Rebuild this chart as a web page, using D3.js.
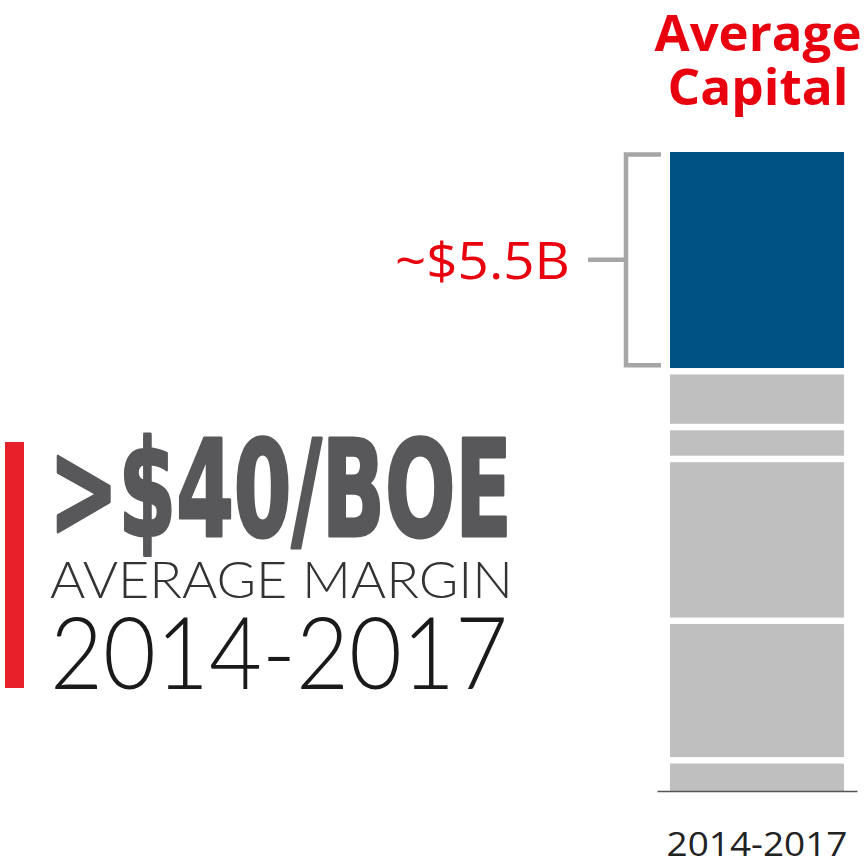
<!DOCTYPE html>
<html>
<head>
<meta charset="utf-8">
<script src="https://cdn.jsdelivr.net/npm/d3@7"></script>
<style>
  html, body { margin: 0; padding: 0; background: #fff; }
  svg { display: block; }
</style>
</head>
<body>
<div id="chart"></div>
<script>
// data
const periods = ["2014-2017"];
const segments = ["s5", "s4", "s3", "s2", "s1", "capital"]; // bottom -> top
const segmentValues = [0.77, 3.5, 4.06, 0.8, 1.4, 5.5];
const capitalLabel = "~$5.5B";
const titleLines = ["Average", "Capital"];
const marginLines = [">$40/BOE", "AVERAGE MARGIN", "2014-2017"];

const red = "#e8000f";
const blue = "#005184";
const grey = "#bfbfbf";
const bracketGrey = "#a6a6a6";

const width = 867;
const height = 864;

const svg = d3
  .select("#chart")
  .append("svg")
  .attr("width", width)
  .attr("height", height)
  .attr("viewBox", [0, 0, width, height]);

// stacked positions
let acc = 0;
const stacked = segmentValues.map((v, i) => {
  const d = { key: segments[i], y0: acc, y1: acc + v };
  acc += v;
  return d;
});
const total = acc;

const x = d3.scaleBand().domain(periods).range([657, 857]).padding(0.0695);
const y = d3.scaleLinear().domain([0, total]).range([791, 152]);

const gap = 6.5;

svg
  .append("g")
  .selectAll("rect")
  .data(stacked)
  .join("rect")
  .attr("x", x(periods[0]))
  .attr("width", x.bandwidth())
  .attr("y", (d) => y(d.y1) + (d.y1 < total ? gap / 2 : 0))
  .attr("height", (d) => {
    let h = y(d.y0) - y(d.y1);
    if (d.y1 < total) h -= gap / 2;
    if (d.y0 > 0) h -= gap / 2;
    return h;
  })
  .attr("fill", (d) => (d.key === "capital" ? blue : grey));

// x axis
const xAxis = (g) =>
  g
    .attr("transform", `translate(0, ${y(0)})`)
    .call(d3.axisBottom(x).tickSize(0).tickSizeOuter(0).tickPadding(42))
    .call((g) => g.select(".domain").attr("stroke", "#555").attr("stroke-width", 1.6))
    .call((g) =>
      g
        .selectAll("text")
        .attr("font-family", "'Open Sans', sans-serif")
        .attr("font-size", 33)
        .attr("fill", "#222")
        .attr("textLength", 181)
        .attr("lengthAdjust", "spacingAndGlyphs")
    );
svg.append("g").call(xAxis);

// bracket around capital segment
const cap = stacked[stacked.length - 1];
const bTop = y(cap.y1) + 2.5;
const bBot = y(cap.y0) - 6;
const bx = 626;
const bMid = (bTop + bBot) / 2;
svg
  .append("path")
  .attr("d", `M661,${bTop} H${bx} V${bBot} H661 M${bx},${bMid} H588`)
  .attr("fill", "none")
  .attr("stroke", bracketGrey)
  .attr("stroke-width", 4.5);

svg
  .append("text")
  .attr("x", 570)
  .attr("y", bMid + 19)
  .attr("text-anchor", "end")
  .attr("font-family", "'Open Sans', sans-serif")
  .attr("font-size", 51)
  .attr("fill", red)
  .attr("textLength", 175)
  .attr("lengthAdjust", "spacingAndGlyphs")
  .text(capitalLabel);

// title
svg
  .selectAll("text.title")
  .data(titleLines)
  .join("text")
  .attr("class", "title")
  .attr("x", 758)
  .attr("y", (d, i) => 51 + i * 54)
  .attr("text-anchor", "middle")
  .attr("font-family", "'Open Sans', sans-serif")
  .attr("font-weight", "bold")
  .attr("font-size", 50)
  .attr("fill", red)
  .attr("textLength", (d, i) => [207, 181][i])
  .attr("lengthAdjust", "spacingAndGlyphs")
  .text((d) => d);

// margin callout
svg
  .append("rect")
  .attr("x", 5)
  .attr("y", 442)
  .attr("width", 19)
  .attr("height", 246)
  .attr("fill", "#e8202a");

const calloutStyle = [
  { y: 536, size: 133, weight: "bold", fill: "#58585a", stroke: 3, len: 463, family: "'DejaVu Sans Condensed', 'DejaVu Sans', sans-serif" },
  { y: 598, size: 51, weight: 300, fill: "#333", stroke: 0, len: 463, family: "Lato, 'Open Sans', sans-serif" },
  { y: 689, size: 100, weight: 300, fill: "#1a1a1a", stroke: 0, len: 458, family: "Lato, 'Open Sans', sans-serif" },
];

svg
  .selectAll("text.callout")
  .data(marginLines)
  .join("text")
  .attr("class", "callout")
  .attr("x", (d, i) => (i === 0 ? 49 : 50))
  .attr("y", (d, i) => calloutStyle[i].y)
  .attr("font-family", (d, i) => calloutStyle[i].family)
  .attr("font-weight", (d, i) => calloutStyle[i].weight)
  .attr("font-size", (d, i) => calloutStyle[i].size)
  .attr("fill", (d, i) => calloutStyle[i].fill)
  .attr("stroke", (d, i) => (calloutStyle[i].stroke ? calloutStyle[i].fill : "none"))
  .attr("stroke-width", (d, i) => calloutStyle[i].stroke)
  .attr("stroke-linejoin", "round")
  .attr("textLength", (d, i) => calloutStyle[i].len)
  .attr("lengthAdjust", "spacingAndGlyphs")
  .text((d) => d);
</script>
</body>
</html>
